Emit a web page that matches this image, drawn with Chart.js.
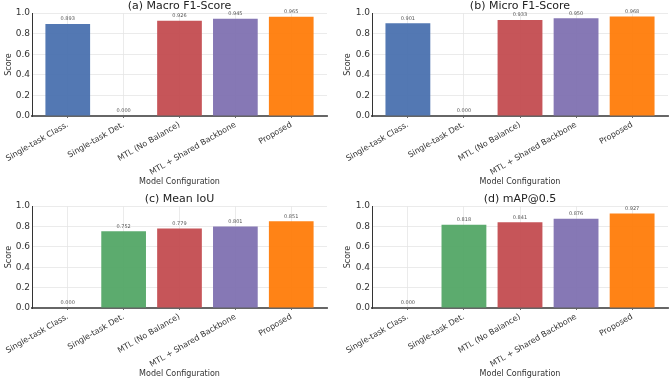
<!DOCTYPE html>
<html>
<head>
<meta charset="utf-8">
<script src="https://cdn.jsdelivr.net/npm/chart.js@4.4.1/dist/chart.umd.min.js"></script>
<style>
  body { margin: 0; background: #fff; }
  #wrap { position: relative; width: 669px; height: 380px; }
  canvas { position: absolute; }
</style>
</head>
<body>
<div id="wrap">
  <canvas id="c0" width="334" height="190" style="left:0;top:0"></canvas>
  <canvas id="c1" width="334" height="190" style="left:335px;top:0"></canvas>
  <canvas id="c2" width="334" height="190" style="left:0;top:190px"></canvas>
  <canvas id="c3" width="334" height="190" style="left:335px;top:190px"></canvas>
</div>
<script>
const categories = ['Single-task Class.', 'Single-task Det.', 'MTL (No Balance)', 'MTL + Shared Backbone', 'Proposed'];
const macroF1 = [0.893, 0.000, 0.926, 0.945, 0.965];
const microF1 = [0.901, 0.000, 0.933, 0.950, 0.968];
const meanIoU = [0.000, 0.752, 0.779, 0.801, 0.851];
const mapAt50 = [0.000, 0.818, 0.841, 0.876, 0.927];
const panelTitles = ['(a) Macro F1-Score', '(b) Micro F1-Score', '(c) Mean IoU', '(d) mAP@0.5'];
const yTicks = [0, 0.2, 0.4, 0.6, 0.8, 1.0];

const barColors = [
    'rgba(76,114,176,0.96)',
    'rgba(85,168,104,0.96)',
    'rgba(196,78,82,0.96)',
    'rgba(129,114,178,0.96)',
    'rgba(255,127,14,0.97)'
];
const FONT = '"DejaVu Sans", "Liberation Sans", sans-serif';

// value text over each bar
const valueLabels = {
    id: 'valueLabels',
    afterDatasetsDraw(chart) {
        let ctx = chart.ctx;
        let meta = chart.getDatasetMeta(0);
        ctx.save();
        ctx.font = '5px ' + FONT;
        ctx.fillStyle = '#555';
        ctx.textAlign = 'center';
        ctx.textBaseline = 'middle';
        meta.data.forEach((bar, i) => {
            let v = chart.data.datasets[0].data[i].y;
            ctx.fillText(v.toFixed(3), bar.x, bar.y - 5);
        });
        ctx.restore();
    }
};

const panels = [
    { id: 'c0', values: macroF1, axisW: 32, padRight: 7, padTop: 0, axisH: 74, xTitlePad: 3, yTitlePad: 4 },
    { id: 'c1', values: microF1, axisW: 37, padRight: 1, padTop: 0, axisH: 74, xTitlePad: 3, yTitlePad: 8 },
    { id: 'c2', values: meanIoU, axisW: 32, padRight: 7, padTop: 3, axisH: 72, xTitlePad: 1, yTitlePad: 4 },
    { id: 'c3', values: mapAt50, axisW: 37, padRight: 1, padTop: 3, axisH: 72, xTitlePad: 1, yTitlePad: 8 }
];

panels.forEach((p, k) => {
    new Chart(document.getElementById(p.id), {
        type: 'bar',
        data: {
            datasets: [{
                data: p.values.map((v, i) => ({ x: i, y: v })),
                backgroundColor: barColors,
                borderWidth: 0,
                barPercentage: 1.0,
                categoryPercentage: 0.8
            }]
        },
        options: {
            responsive: false,
            animation: false,
            devicePixelRatio: 1,
            layout: { padding: { left: 0, right: p.padRight, top: p.padTop, bottom: 0 } },
            plugins: {
                legend: { display: false },
                tooltip: { enabled: false },
                title: {
                    display: true,
                    fullSize: false,
                    text: panelTitles[k],
                    color: '#222',
                    font: { family: FONT, size: 11, weight: 'normal', lineHeight: 1.1 },
                    padding: { top: 0, bottom: 1 }
                }
            },
            scales: {
                x: {
                    type: 'linear',
                    offset: false,
                    min: -0.64,
                    max: 4.64,
                    afterBuildTicks: s => { s.ticks = categories.map((c, i) => ({ value: i })); },
                    afterFit: s => { s.height = p.axisH; s.paddingLeft = 0; s.paddingRight = 0; },
                    ticks: {
                        autoSkip: false,
                        minRotation: 30,
                        maxRotation: 30,
                        padding: 2,
                        color: '#333',
                        font: { family: FONT, size: 8 },
                        callback: v => categories[v]
                    },
                    grid: { offset: false, color: '#e6e6e6', lineWidth: 0.8, tickLength: 2, tickColor: '#444' },
                    border: { color: '#666', width: 2 },
                    title: {
                        display: true,
                        text: 'Model Configuration',
                        color: '#333',
                        font: { family: FONT, size: 8 },
                        padding: { top: 0, bottom: p.xTitlePad }
                    }
                },
                y: {
                    min: 0,
                    max: 1.0,
                    afterBuildTicks: s => { s.ticks = yTicks.map(v => ({ value: v })); },
                    afterFit: s => { s.width = p.axisW; s.paddingTop = 0; s.paddingBottom = 0; },
                    ticks: {
                        padding: 2,
                        color: '#333',
                        font: { family: FONT, size: 9 },
                        callback: v => v.toFixed(1)
                    },
                    grid: { color: '#e6e6e6', lineWidth: 0.8, tickLength: 0 },
                    border: { color: '#333', width: 1 },
                    title: {
                        display: true,
                        text: 'Score',
                        color: '#333',
                        font: { family: FONT, size: 8 },
                        padding: { top: p.yTitlePad, bottom: 0 }
                    }
                }
            }
        },
        plugins: [valueLabels]
    });
});
</script>
</body>
</html>
